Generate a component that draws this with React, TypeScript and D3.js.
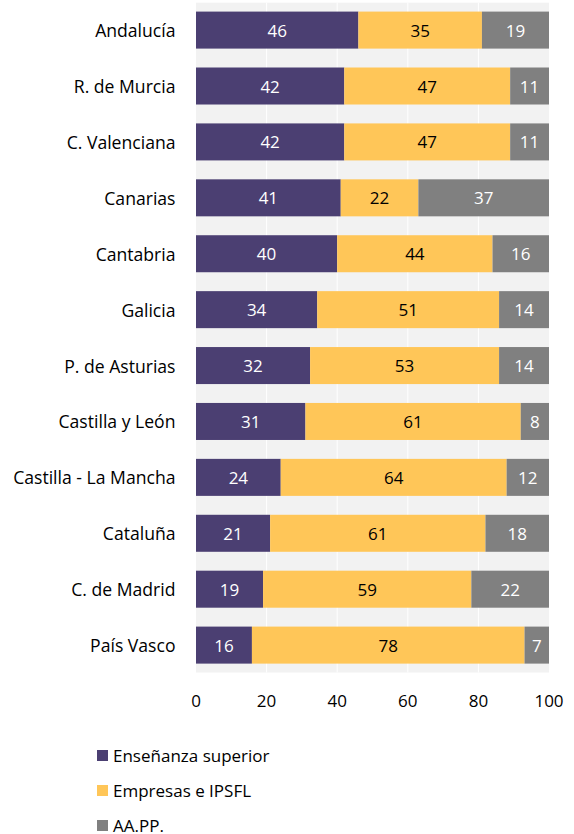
import React from "react";
import * as d3 from "d3";

const categories = [
  "Andalucía",
  "R. de Murcia",
  "C. Valenciana",
  "Canarias",
  "Cantabria",
  "Galicia",
  "P. de Asturias",
  "Castilla y León",
  "Castilla - La Mancha",
  "Cataluña",
  "C. de Madrid",
  "País Vasco",
];
const ensenanza = [46, 42, 42, 41, 40, 34, 32, 31, 24, 21, 19, 16];
const empresas = [35, 47, 47, 22, 44, 51, 53, 61, 64, 61, 59, 78];
const aapp = [19, 11, 11, 37, 16, 14, 14, 8, 12, 18, 22, 7];
const seriesNames = ["Enseñanza superior", "Empresas e IPSFL", "AA.PP."];
const xTicks = [0, 20, 40, 60, 80, 100];

const colors = ["#4b3f72", "#ffc658", "#808080"];
const textColors = ["#ffffff", "#000000", "#ffffff"];

export default function App() {
  const width = 574;
  const height = 834;
  const left = 196;
  const right = 549;
  const top = 2.7;
  const bottom = 672.5;
  const font = "'Open Sans', sans-serif";

  const x = d3.scaleLinear().domain([0, 100]).range([left, right]);
  const y = d3
    .scaleBand<string>()
    .domain(categories)
    .range([top, bottom])
    .paddingInner(0.338)
    .paddingOuter(0.159);

  const series = [ensenanza, empresas, aapp];
  const data = categories.map((c, i) => ({
    c,
    v0: ensenanza[i],
    v1: empresas[i],
    v2: aapp[i],
  }));
  const stack = d3
    .stack<any>()
    .keys(["v0", "v1", "v2"])
    .offset(d3.stackOffsetExpand)(data);

  return (
    <svg
      width={width}
      height={height}
      style={{ position: "absolute", left: 0, top: 0, fontFamily: font }}
    >
      <rect x={left} y={top} width={right - left} height={bottom - top} fill="#f2f2f2" />
      {xTicks.slice(1, -1).map((t) => (
        <line key={t} x1={x(t)} x2={x(t)} y1={top} y2={bottom} stroke="#ffffff" strokeWidth={1} />
      ))}
      {stack.map((s, si) =>
        s.map((d, i) => {
          const x0 = x(d[0] * 100);
          const x1 = x(d[1] * 100);
          const yy = y(categories[i])!;
          const bw = y.bandwidth();
          return (
            <g key={si + "-" + i}>
              <rect x={x0} y={yy} width={x1 - x0} height={bw} fill={colors[si]} />
              <text
                x={(x0 + x1) / 2}
                y={yy + bw / 2}
                textAnchor="middle"
                dominantBaseline="central"
                fontSize={17}
                fill={textColors[si]}
              >
                {series[si][i]}
              </text>
            </g>
          );
        })
      )}
      {categories.map((c) => (
        <text
          key={c}
          x={175.5}
          y={y(c)! + y.bandwidth() / 2}
          textAnchor="end"
          dominantBaseline="central"
          fontSize={17.6}
          fill="#000"
        >
          {c}
        </text>
      ))}
      {xTicks.map((t) => (
        <text
          key={t}
          x={x(t)}
          y={700}
          textAnchor="middle"
          dominantBaseline="central"
          fontSize={17}
          fill="#000"
        >
          {t}
        </text>
      ))}
      {seriesNames.map((n, i) => (
        <g key={n}>
          <rect x={97} y={750 + i * 35} width={11} height={11} fill={colors[i]} />
          <text x={113} y={755.5 + i * 35} dominantBaseline="central" fontSize={17} fill="#000">
            {n}
          </text>
        </g>
      ))}
    </svg>
  );
}
